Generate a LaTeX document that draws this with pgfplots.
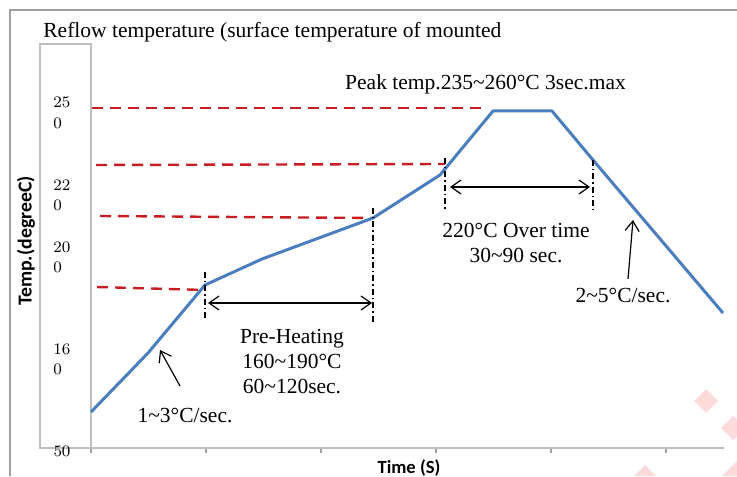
\documentclass[border=0pt]{standalone}
\usepackage{pgfplots}
\pgfplotsset{compat=1.18}
\usepackage{fontspec}
\setmainfont{Liberation Serif}
\newfontfamily\calib{Carlito}
\usetikzlibrary{arrows.meta}
\definecolor{bl}{RGB}{74,126,190}
\definecolor{rd}{RGB}{200,30,35}
\definecolor{pk}{RGB}{255,218,218}
\definecolor{fr}{RGB}{160,160,160}
\definecolor{fr2}{RGB}{190,190,190}
\newcommand\sz{\fontsize{10.75}{13}\selectfont}
\newcommand\tl{\fontsize{8}{9}\selectfont}
\begin{document}
\begin{tikzpicture}
\useasboundingbox (0,0) rectangle (368.5pt,238pt);
\begin{axis}[at={(45.5pt,14pt)}, anchor=south west, x=0.5pt, y=0.5pt,
  xmin=91, xmax=724, ymin=28, ymax=432, clip=false, enlargelimits=false,
  axis x line*=bottom, axis y line=none,
  axis line style={-, draw=fr2, line width=0.8pt},
  xtick={91,206,321,436,551,666}, xticklabels={}, ytick=\empty,
  xticklabel style={text opacity=0},
  tick align=outside, major tick length=2.5pt,
  tick style={draw=fr, line width=0.6pt}]
% watermark
\addplot[fill=pk, draw=none] coordinates {(694,75) (706,87) (718,75) (706,63)} -- cycle;
\addplot[fill=pk, draw=none] coordinates {(721,48) (733,60) (737,56) (737,40) (733,36)} -- cycle;
\addplot[fill=pk, draw=none] coordinates {(634,0) (645,11) (656,0)} -- cycle;
\addplot[fill=pk, draw=none] coordinates {(722,0) (737,15) (737,0)} -- cycle;
% frames
\addplot[draw=fr, line width=0.9pt] coordinates {(10,0) (10,466) (737,466)};
\addplot[draw=fr2, line width=0.8pt] coordinates {(91,28) (40,28) (40,432) (91,432) (91,28)};
% red dashed guides
\addplot[draw=rd, line width=1.2pt, dash pattern=on 5.5pt off 3.5pt] coordinates {(92,368) (483,368)};
\addplot[draw=rd, line width=1.2pt, dash pattern=on 5.5pt off 3.5pt] coordinates {(96,311) (445,312)};
\addplot[draw=rd, line width=1.2pt, dash pattern=on 5.5pt off 3.5pt] coordinates {(100,260) (372,258)};
\addplot[draw=rd, line width=1.2pt, dash pattern=on 5.5pt off 3.5pt] coordinates {(97,189) (205,186)};
% profile
\addplot[draw=bl, line width=1.5pt, line join=round] coordinates {
(91,64) (148,123) (205,191) (262,217) (373,258) (440,301) (493,365) (552,365) (593,316) (723,163)};
% dash-dot markers
\addplot[black, line width=0.7pt, dash pattern=on 3pt off 1.5pt on 0.75pt off 1.5pt] coordinates {(205,204) (205,156)};
\addplot[black, line width=0.7pt, dash pattern=on 3pt off 1.5pt on 0.75pt off 1.5pt] coordinates {(373,268) (373,153)};
\addplot[black, line width=0.7pt, dash pattern=on 3pt off 1.5pt on 0.75pt off 1.5pt] coordinates {(445,318) (445,266)};
\addplot[black, line width=0.7pt, dash pattern=on 3pt off 1.5pt on 0.75pt off 1.5pt] coordinates {(593,316) (593,266)};
% arrows
\addplot[black, line width=0.6pt, {Straight Barb[length=5pt,width=7pt]}-{Straight Barb[length=5pt,width=7pt]}] coordinates {(208,173) (372,173)};
\addplot[black, line width=0.6pt, {Straight Barb[length=5pt,width=7pt]}-{Straight Barb[length=5pt,width=7pt]}] coordinates {(450,289) (590,289)};
\addplot[black, line width=0.6pt, -{Straight Barb[length=5pt,width=7pt]}] coordinates {(180,90) (160,126)};
\addplot[black, line width=0.6pt, -{Straight Barb[length=5pt,width=7pt]}] coordinates {(628,197) (633,256)};
% texts
\node[anchor=base west, inner sep=0pt, font=\sz] at (axis cs:43,438) {Reflow temperature (surface temperature of mounted};
\node[anchor=base, inner sep=0pt, font=\sz] at (axis cs:485.5,386) {Peak temp.235\textasciitilde260°C 3sec.max};
\node[anchor=base, inner sep=0pt, font=\sz] at (axis cs:516,238) {220°C Over time};
\node[anchor=base, inner sep=0pt, font=\sz] at (axis cs:516,213) {30\textasciitilde90 sec.};
\node[anchor=base, inner sep=0pt, font=\sz] at (axis cs:623,173) {2\textasciitilde5°C/sec.};
\node[anchor=base, inner sep=0pt, font=\sz] at (axis cs:292,133) {Pre-Heating};
\node[anchor=base, inner sep=0pt, font=\sz] at (axis cs:292,108) {160\textasciitilde190°C};
\node[anchor=base, inner sep=0pt, font=\sz] at (axis cs:292,83) {60\textasciitilde120sec.};
\node[anchor=base, inner sep=0pt, font=\sz] at (axis cs:185,54) {1\textasciitilde3°C/sec.};
\node[rotate=90, inner sep=0pt, font=\calib\bfseries\fontsize{9.9}{12}\selectfont] at (axis cs:26,235) {Temp.(degreeC)};
\node[anchor=base, inner sep=0pt, font=\calib\bfseries\fontsize{9.3}{11}\selectfont] at (axis cs:409,3) {Time (S)};
% y labels inside the box
\node[anchor=west, inner sep=0pt, font=\tl] at (axis cs:53,374) {$25$};
\node[anchor=west, inner sep=0pt, font=\tl] at (axis cs:53,353) {$0$};
\node[anchor=west, inner sep=0pt, font=\tl] at (axis cs:53,291) {$22$};
\node[anchor=west, inner sep=0pt, font=\tl] at (axis cs:53,271) {$0$};
\node[anchor=west, inner sep=0pt, font=\tl] at (axis cs:53,229) {$20$};
\node[anchor=west, inner sep=0pt, font=\tl] at (axis cs:53,209) {$0$};
\node[anchor=west, inner sep=0pt, font=\tl] at (axis cs:53,127) {$16$};
\node[anchor=west, inner sep=0pt, font=\tl] at (axis cs:53,107) {$0$};
\node[inner sep=0pt, font=\tl] at (axis cs:62,25) {$50$};
\end{axis}
\end{tikzpicture}
\end{document}
